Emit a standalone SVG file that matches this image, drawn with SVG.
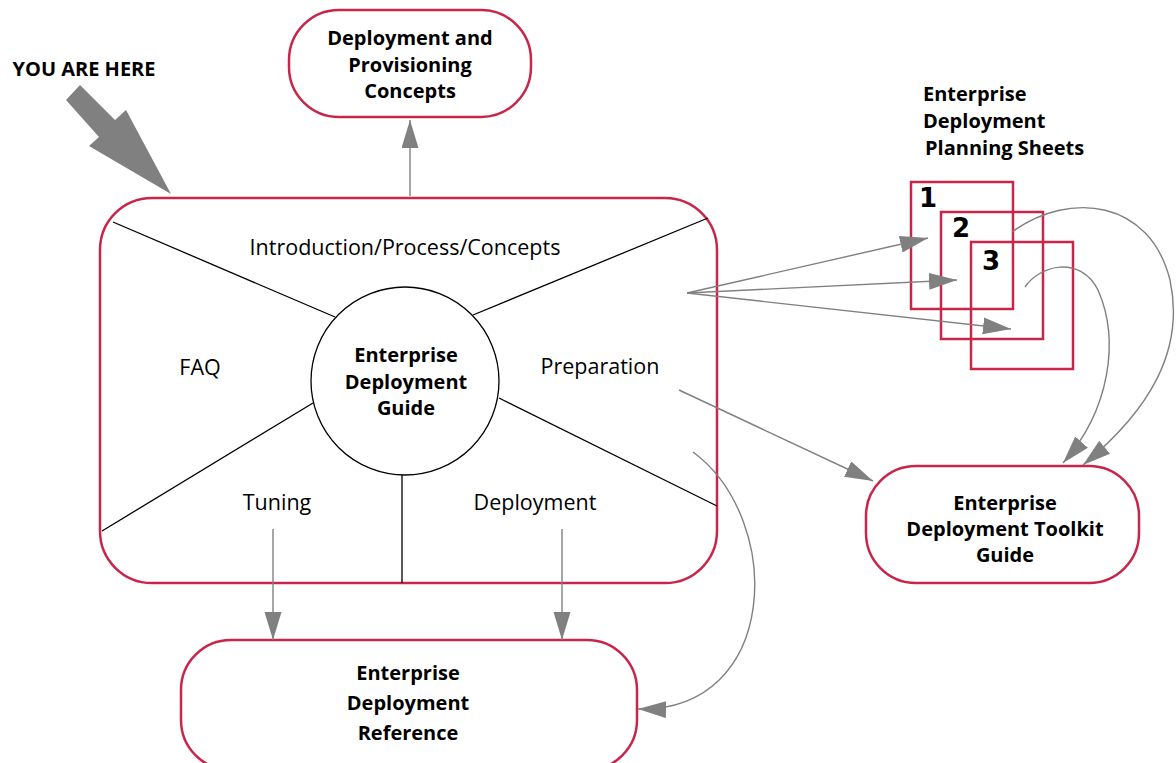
<svg xmlns="http://www.w3.org/2000/svg" width="1176" height="763" viewBox="0 0 1176 763">
<style>
.box{fill:#fff;stroke:#c9254b;stroke-width:2.5}
.sheet{fill:none;stroke:#c9254b;stroke-width:2.5}
.div{stroke:#000;stroke-width:1.3;fill:none}
.con{stroke:#808080;stroke-width:1.4;fill:none}
.b{font-family:"Open Sans","Liberation Sans",sans-serif;font-weight:700;font-size:20px;fill:#000;text-anchor:middle}
.r{font-family:"Open Sans","Liberation Sans",sans-serif;font-size:21.5px;fill:#000;text-anchor:middle}
.n{font-family:"DejaVu Sans",sans-serif;font-weight:700;font-size:26px;fill:#000;text-anchor:middle}
</style>
<defs>
<marker id="ah" markerUnits="userSpaceOnUse" markerWidth="29" markerHeight="18" refX="28" refY="8.5" orient="auto">
<path d="M0,0 L28,8.5 L0,17 z" fill="#808080"/>
</marker>
</defs>
<rect width="1176" height="763" fill="#fff"/>

<g id="you-are-here">
<text x="84" y="76" class="b">YOU ARE HERE</text>
<polygon points="66,100 80,85 115,120 126,110 171,194 89,146 99,137" fill="#808080"/>
</g>

<g id="main-guide">
<rect x="100" y="198" width="617" height="385" rx="52" ry="52" class="box"/>
<line x1="113" y1="222" x2="335" y2="317" class="div"/>
<line x1="473" y1="315" x2="708" y2="218" class="div"/>
<line x1="313" y1="403" x2="102" y2="531" class="div"/>
<line x1="499" y1="398" x2="717" y2="506" class="div"/>
<line x1="402" y1="475" x2="402" y2="583" class="div"/>
<circle cx="405" cy="381" r="94" fill="#fff" stroke="#000" stroke-width="1.3"/>
<text class="b" x="406" y="362">Enterprise</text>
<text class="b" x="406" y="389">Deployment</text>
<text class="b" x="406" y="415">Guide</text>
<text class="r" x="405" y="255">Introduction/Process/Concepts</text>
<text class="r" x="200" y="375">FAQ</text>
<text class="r" x="600" y="374">Preparation</text>
<text class="r" x="277" y="510">Tuning</text>
<text class="r" x="535" y="510">Deployment</text>
</g>

<g id="concepts">
<rect x="289" y="10" width="242" height="107" rx="50" ry="50" class="box"/>
<text class="b" x="410" y="45">Deployment and</text>
<text class="b" x="410" y="72">Provisioning</text>
<text class="b" x="410" y="98">Concepts</text>
</g>

<g id="planning-sheets">
<text class="b" x="923" y="101" style="text-anchor:start">Enterprise</text>
<text class="b" x="923" y="128" style="text-anchor:start">Deployment</text>
<text class="b" x="925" y="155" style="text-anchor:start">Planning Sheets</text>
<rect x="911" y="182" width="102" height="127" class="sheet"/>
<rect x="941" y="212" width="102" height="127" class="sheet"/>
<rect x="971" y="242" width="102" height="127" class="sheet"/>
<text class="n" x="928" y="207">1</text>
<text class="n" x="961" y="237">2</text>
<text class="n" x="991" y="270">3</text>
</g>

<g id="toolkit">
<rect x="866" y="466" width="273" height="117" rx="50" ry="50" class="box"/>
<text class="b" x="1005" y="510">Enterprise</text>
<text class="b" x="1005" y="536">Deployment Toolkit</text>
<text class="b" x="1005" y="562">Guide</text>
</g>

<g id="reference">
<rect x="181" y="640" width="456" height="130" rx="50" ry="50" class="box"/>
<text class="b" x="408" y="680">Enterprise</text>
<text class="b" x="408" y="710">Deployment</text>
<text class="b" x="408" y="740">Reference</text>
</g>

<g id="connectors">
<path class="con" d="M410,196 L410,120" marker-end="url(#ah)"/>
<path class="con" d="M687,293 L928,238" marker-end="url(#ah)"/>
<path class="con" d="M687,293 L957,280" marker-end="url(#ah)"/>
<path class="con" d="M687,293 L1011,329" marker-end="url(#ah)"/>
<path class="con" d="M679,390 L873,481" marker-end="url(#ah)"/>
<path class="con" d="M273,529 L273,640" marker-end="url(#ah)"/>
<path class="con" d="M562,529 L562,640" marker-end="url(#ah)"/>
<path class="con" d="M693,452 C785,520 780,712 638,709" marker-end="url(#ah)"/>
<path class="con" d="M1012,232 C1070,190 1150,200 1170,280 C1185,350 1150,410 1083,465" marker-end="url(#ah)"/>
<path class="con" d="M1025,287 C1040,265 1080,255 1098,290 C1120,340 1110,410 1063,463" marker-end="url(#ah)"/>
</g>
</svg>
